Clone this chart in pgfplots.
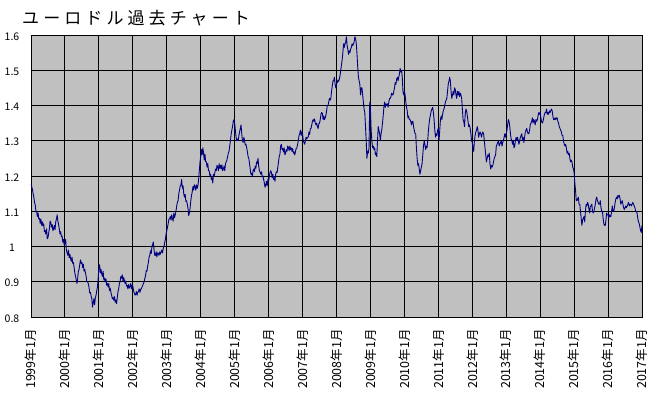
\documentclass[border=0pt]{standalone}
\usepackage{pgfplots}
\pgfplotsset{compat=1.18}
\usepackage{pgfplotstable}
\usepackage{fontspec}
\newfontfamily\cjk{Noto Sans CJK JP}
\definecolor{plotbg}{RGB}{192,192,192}
\definecolor{navyline}{RGB}{0,0,128}
\pgfplotstableread[row sep=\\]{
x y\\
0 1.178\\ 0.25 1.17\\ 0.5 1.162\\ 0.75 1.15\\
1 1.14\\ 1.25 1.125\\ 1.5 1.118\\ 1.75 1.098\\
2 1.10\\ 2.25 1.085\\ 2.5 1.095\\ 2.75 1.078\\
3 1.08\\ 3.25 1.066\\ 3.5 1.078\\ 3.75 1.06\\
4 1.07\\ 4.25 1.058\\ 4.5 1.064\\ 4.75 1.042\\
5 1.045\\ 5.25 1.035\\ 5.5 1.05\\ 5.75 1.022\\
6 1.025\\ 6.25 1.038\\ 6.5 1.05\\ 6.75 1.072\\
7 1.068\\ 7.25 1.055\\ 7.5 1.062\\ 7.75 1.045\\
8 1.05\\ 8.25 1.06\\ 8.5 1.048\\ 8.75 1.07\\
9 1.078\\ 9.25 1.09\\ 9.5 1.072\\ 9.75 1.062\\
10 1.05\\ 10.25 1.035\\ 10.5 1.042\\ 10.75 1.028\\
11 1.03\\ 11.25 1.012\\ 11.5 1.02\\ 11.75 1.004\\
12 1.008\\ 12.25 1.02\\ 12.5 0.99\\ 12.75 0.982\\
13 0.975\\ 13.25 0.99\\ 13.5 0.968\\ 13.75 0.978\\
14 0.965\\ 14.25 0.958\\ 14.5 0.97\\ 14.75 0.952\\
15 0.955\\ 15.25 0.94\\ 15.5 0.925\\ 15.75 0.915\\
16 0.905\\ 16.25 0.895\\ 16.5 0.91\\ 16.75 0.93\\
17 0.935\\ 17.25 0.95\\ 17.5 0.962\\ 17.75 0.952\\
18 0.955\\ 18.25 0.94\\ 18.5 0.95\\ 18.75 0.93\\
19 0.935\\ 19.25 0.925\\ 19.5 0.915\\ 19.75 0.9\\
20 0.9\\ 20.25 0.895\\ 20.5 0.885\\ 20.75 0.868\\
21 0.87\\ 21.25 0.86\\ 21.5 0.852\\ 21.75 0.828\\
22 0.84\\ 22.25 0.852\\ 22.5 0.835\\ 22.75 0.855\\
23 0.862\\ 23.25 0.875\\ 23.5 0.885\\ 23.75 0.91\\
24 0.94\\ 24.25 0.948\\ 24.5 0.925\\ 24.75 0.935\\
25 0.922\\ 25.25 0.915\\ 25.5 0.93\\ 25.75 0.905\\
26 0.91\\ 26.25 0.9\\ 26.5 0.908\\ 26.75 0.89\\
27 0.895\\ 27.25 0.885\\ 27.5 0.895\\ 27.75 0.875\\
28 0.882\\ 28.25 0.87\\ 28.5 0.862\\ 28.75 0.852\\
29 0.855\\ 29.25 0.848\\ 29.5 0.858\\ 29.75 0.842\\
30 0.848\\ 30.25 0.838\\ 30.5 0.855\\ 30.75 0.872\\
31 0.88\\ 31.25 0.895\\ 31.5 0.9\\ 31.75 0.915\\
32 0.91\\ 32.25 0.92\\ 32.5 0.902\\ 32.75 0.912\\
33 0.905\\ 33.25 0.895\\ 33.5 0.902\\ 33.75 0.888\\
34 0.89\\ 34.25 0.88\\ 34.5 0.892\\ 34.75 0.882\\
35 0.886\\ 35.25 0.895\\ 35.5 0.88\\ 35.75 0.89\\
36 0.888\\ 36.25 0.875\\ 36.5 0.868\\ 36.75 0.862\\
37 0.865\\ 37.25 0.872\\ 37.5 0.862\\ 37.75 0.87\\
38 0.872\\ 38.25 0.88\\ 38.5 0.87\\ 38.75 0.878\\
39 0.88\\ 39.25 0.885\\ 39.5 0.89\\ 39.75 0.895\\
40 0.9\\ 40.25 0.91\\ 40.5 0.918\\ 40.75 0.932\\
41 0.93\\ 41.25 0.945\\ 41.5 0.955\\ 41.75 0.97\\
42 0.975\\ 42.25 0.988\\ 42.5 0.98\\ 42.75 1.0\\
43 1.005\\ 43.25 1.013\\ 43.5 0.99\\ 43.75 0.975\\
44 0.975\\ 44.25 0.985\\ 44.5 0.97\\ 44.75 0.982\\
45 0.98\\ 45.25 0.975\\ 45.5 0.985\\ 45.75 0.978\\
46 0.985\\ 46.25 0.99\\ 46.5 0.982\\ 46.75 0.995\\
47 1.0\\ 47.25 1.01\\ 47.5 1.02\\ 47.75 1.035\\
48 1.045\\ 48.25 1.055\\ 48.5 1.065\\ 48.75 1.078\\
49 1.078\\ 49.25 1.085\\ 49.5 1.075\\ 49.75 1.09\\
50 1.08\\ 50.25 1.072\\ 50.5 1.095\\ 50.75 1.082\\
51 1.09\\ 51.25 1.1\\ 51.5 1.115\\ 51.75 1.125\\
52 1.13\\ 52.25 1.15\\ 52.5 1.16\\ 52.75 1.172\\
53 1.175\\ 53.25 1.19\\ 53.5 1.165\\ 53.75 1.172\\
54 1.15\\ 54.25 1.14\\ 54.5 1.148\\ 54.75 1.128\\
55 1.13\\ 55.25 1.12\\ 55.5 1.108\\ 55.75 1.088\\
56 1.095\\ 56.25 1.11\\ 56.5 1.13\\ 56.75 1.145\\
57 1.155\\ 57.25 1.17\\ 57.5 1.16\\ 57.75 1.175\\
58 1.17\\ 58.25 1.16\\ 58.5 1.175\\ 58.75 1.165\\
59 1.172\\ 59.25 1.19\\ 59.5 1.215\\ 59.75 1.24\\
60 1.255\\ 60.25 1.275\\ 60.5 1.26\\ 60.75 1.28\\
61 1.265\\ 61.25 1.245\\ 61.5 1.262\\ 61.75 1.24\\
62 1.24\\ 62.25 1.225\\ 62.5 1.235\\ 62.75 1.215\\
63 1.215\\ 63.25 1.2\\ 63.5 1.205\\ 63.75 1.19\\
64 1.195\\ 64.25 1.18\\ 64.5 1.205\\ 64.75 1.2\\
65 1.21\\ 65.25 1.22\\ 65.5 1.215\\ 65.75 1.23\\
66 1.225\\ 66.25 1.215\\ 66.5 1.235\\ 66.75 1.222\\
67 1.23\\ 67.25 1.22\\ 67.5 1.232\\ 67.75 1.215\\
68 1.22\\ 68.25 1.228\\ 68.5 1.215\\ 68.75 1.235\\
69 1.24\\ 69.25 1.245\\ 69.5 1.255\\ 69.75 1.265\\
70 1.27\\ 70.25 1.285\\ 70.5 1.3\\ 70.75 1.318\\
71 1.33\\ 71.25 1.34\\ 71.5 1.355\\ 71.75 1.36\\
72 1.35\\ 72.25 1.33\\ 72.5 1.31\\ 72.75 1.3\\
73 1.305\\ 73.25 1.3\\ 73.5 1.315\\ 73.75 1.325\\
74 1.335\\ 74.25 1.345\\ 74.5 1.32\\ 74.75 1.3\\
75 1.295\\ 75.25 1.31\\ 75.5 1.3\\ 75.75 1.288\\
76 1.29\\ 76.25 1.28\\ 76.5 1.268\\ 76.75 1.255\\
77 1.25\\ 77.25 1.235\\ 77.5 1.22\\ 77.75 1.205\\
78 1.208\\ 78.25 1.198\\ 78.5 1.215\\ 78.75 1.22\\
79 1.212\\ 79.25 1.228\\ 79.5 1.222\\ 79.75 1.24\\
80 1.235\\ 80.25 1.25\\ 80.5 1.228\\ 80.75 1.215\\
81 1.21\\ 81.25 1.205\\ 81.5 1.212\\ 81.75 1.198\\
82 1.2\\ 82.25 1.19\\ 82.5 1.18\\ 82.75 1.168\\
83 1.175\\ 83.25 1.185\\ 83.5 1.172\\ 83.75 1.19\\
84 1.185\\ 84.25 1.198\\ 84.5 1.21\\ 84.75 1.215\\
85 1.21\\ 85.25 1.195\\ 85.5 1.205\\ 85.75 1.19\\
86 1.195\\ 86.25 1.185\\ 86.5 1.205\\ 86.75 1.212\\
87 1.21\\ 87.25 1.225\\ 87.5 1.24\\ 87.75 1.255\\
88 1.262\\ 88.25 1.285\\ 88.5 1.29\\ 88.75 1.275\\
89 1.278\\ 89.25 1.268\\ 89.5 1.28\\ 89.75 1.26\\
90 1.265\\ 90.25 1.275\\ 90.5 1.27\\ 90.75 1.285\\
91 1.28\\ 91.25 1.272\\ 91.5 1.285\\ 91.75 1.275\\
92 1.28\\ 92.25 1.27\\ 92.5 1.278\\ 92.75 1.265\\
93 1.268\\ 93.25 1.26\\ 93.5 1.27\\ 93.75 1.278\\
94 1.28\\ 94.25 1.29\\ 94.5 1.3\\ 94.75 1.315\\
95 1.32\\ 95.25 1.33\\ 95.5 1.315\\ 95.75 1.325\\
96 1.32\\ 96.25 1.3\\ 96.5 1.295\\ 96.75 1.29\\
97 1.3\\ 97.25 1.31\\ 97.5 1.305\\ 97.75 1.31\\
98 1.31\\ 98.25 1.325\\ 98.5 1.318\\ 98.75 1.335\\
99 1.335\\ 99.25 1.345\\ 99.5 1.355\\ 99.75 1.36\\
100 1.355\\ 100.25 1.362\\ 100.5 1.35\\ 100.75 1.345\\
101 1.35\\ 101.25 1.34\\ 101.5 1.335\\ 101.75 1.348\\
102 1.35\\ 102.25 1.36\\ 102.5 1.375\\ 102.75 1.38\\
103 1.378\\ 103.25 1.36\\ 103.5 1.37\\ 103.75 1.36\\
104 1.365\\ 104.25 1.372\\ 104.5 1.385\\ 104.75 1.4\\
105 1.4\\ 105.25 1.41\\ 105.5 1.42\\ 105.75 1.415\\
106 1.42\\ 106.25 1.44\\ 106.5 1.455\\ 106.75 1.47\\
107 1.47\\ 107.25 1.48\\ 107.5 1.46\\ 107.75 1.45\\
108 1.46\\ 108.25 1.465\\ 108.5 1.472\\ 108.75 1.468\\
109 1.475\\ 109.25 1.485\\ 109.5 1.5\\ 109.75 1.515\\
110 1.53\\ 110.25 1.55\\ 110.5 1.575\\ 110.75 1.565\\
111 1.575\\ 111.25 1.58\\ 111.5 1.595\\ 111.75 1.57\\
112 1.56\\ 112.25 1.545\\ 112.5 1.555\\ 112.75 1.55\\
113 1.56\\ 113.25 1.565\\ 113.5 1.575\\ 113.75 1.57\\
114 1.575\\ 114.25 1.58\\ 114.5 1.595\\ 114.75 1.59\\
115 1.575\\ 115.25 1.545\\ 115.5 1.51\\ 115.75 1.48\\
116 1.47\\ 116.25 1.46\\ 116.5 1.43\\ 116.75 1.45\\
117 1.45\\ 117.25 1.43\\ 117.5 1.41\\ 117.75 1.39\\
118 1.38\\ 118.25 1.34\\ 118.5 1.3\\ 118.75 1.25\\
119 1.27\\ 119.25 1.265\\ 119.5 1.28\\ 119.75 1.41\\
120 1.39\\ 120.25 1.33\\ 120.5 1.3\\ 120.75 1.28\\
121 1.285\\ 121.25 1.275\\ 121.5 1.28\\ 121.75 1.26\\
122 1.265\\ 122.25 1.255\\ 122.5 1.3\\ 122.75 1.34\\
123 1.33\\ 123.25 1.32\\ 123.5 1.3\\ 123.75 1.32\\
124 1.33\\ 124.25 1.35\\ 124.5 1.37\\ 124.75 1.395\\
125 1.41\\ 125.25 1.395\\ 125.5 1.405\\ 125.75 1.4\\
126 1.405\\ 126.25 1.395\\ 126.5 1.41\\ 126.75 1.42\\
127 1.42\\ 127.25 1.425\\ 127.5 1.435\\ 127.75 1.43\\
128 1.43\\ 128.25 1.44\\ 128.5 1.45\\ 128.75 1.465\\
129 1.46\\ 129.25 1.475\\ 129.5 1.48\\ 129.75 1.47\\
130 1.48\\ 130.25 1.49\\ 130.5 1.505\\ 130.75 1.495\\
131 1.5\\ 131.25 1.48\\ 131.5 1.44\\ 131.75 1.43\\
132 1.44\\ 132.25 1.43\\ 132.5 1.41\\ 132.75 1.395\\
133 1.385\\ 133.25 1.365\\ 133.5 1.37\\ 133.75 1.36\\
134 1.36\\ 134.25 1.355\\ 134.5 1.345\\ 134.75 1.355\\
135 1.355\\ 135.25 1.34\\ 135.5 1.33\\ 135.75 1.32\\
136 1.32\\ 136.25 1.28\\ 136.5 1.25\\ 136.75 1.23\\
137 1.235\\ 137.25 1.22\\ 137.5 1.205\\ 137.75 1.215\\
138 1.225\\ 138.25 1.235\\ 138.5 1.26\\ 138.75 1.285\\
139 1.3\\ 139.25 1.29\\ 139.5 1.275\\ 139.75 1.285\\
140 1.28\\ 140.25 1.3\\ 140.5 1.33\\ 140.75 1.35\\
141 1.365\\ 141.25 1.375\\ 141.5 1.385\\ 141.75 1.39\\
142 1.395\\ 142.25 1.38\\ 142.5 1.36\\ 142.75 1.33\\
143 1.31\\ 143.25 1.32\\ 143.5 1.315\\ 143.75 1.33\\
144 1.335\\ 144.25 1.3\\ 144.5 1.33\\ 144.75 1.36\\
145 1.37\\ 145.25 1.36\\ 145.5 1.375\\ 145.75 1.385\\
146 1.39\\ 146.25 1.4\\ 146.5 1.41\\ 146.75 1.415\\
147 1.42\\ 147.25 1.44\\ 147.5 1.46\\ 147.75 1.47\\
148 1.48\\ 148.25 1.47\\ 148.5 1.44\\ 148.75 1.42\\
149 1.43\\ 149.25 1.44\\ 149.5 1.43\\ 149.75 1.45\\
150 1.445\\ 150.25 1.43\\ 150.5 1.42\\ 150.75 1.44\\
151 1.43\\ 151.25 1.44\\ 151.5 1.425\\ 151.75 1.435\\
152 1.43\\ 152.25 1.42\\ 152.5 1.39\\ 152.75 1.36\\
153 1.355\\ 153.25 1.34\\ 153.5 1.375\\ 153.75 1.39\\
154 1.385\\ 154.25 1.37\\ 154.5 1.355\\ 154.75 1.34\\
155 1.345\\ 155.25 1.335\\ 155.5 1.32\\ 155.75 1.3\\
156 1.295\\ 156.25 1.28\\ 156.5 1.27\\ 156.75 1.3\\
157 1.315\\ 157.25 1.325\\ 157.5 1.33\\ 157.75 1.34\\
158 1.33\\ 158.25 1.31\\ 158.5 1.32\\ 158.75 1.325\\
159 1.32\\ 159.25 1.31\\ 159.5 1.32\\ 159.75 1.325\\
160 1.32\\ 160.25 1.3\\ 160.5 1.28\\ 160.75 1.26\\
161 1.24\\ 161.25 1.25\\ 161.5 1.26\\ 161.75 1.255\\
162 1.265\\ 162.25 1.235\\ 162.5 1.22\\ 162.75 1.23\\
163 1.225\\ 163.25 1.23\\ 163.5 1.24\\ 163.75 1.25\\
164 1.255\\ 164.25 1.26\\ 164.5 1.285\\ 164.75 1.29\\
165 1.295\\ 165.25 1.3\\ 165.5 1.285\\ 165.75 1.29\\
166 1.295\\ 166.25 1.3\\ 166.5 1.285\\ 166.75 1.295\\
167 1.3\\ 167.25 1.31\\ 167.5 1.32\\ 167.75 1.31\\
168 1.32\\ 168.25 1.33\\ 168.5 1.345\\ 168.75 1.36\\
169 1.355\\ 169.25 1.34\\ 169.5 1.32\\ 169.75 1.305\\
170 1.3\\ 170.25 1.29\\ 170.5 1.3\\ 170.75 1.28\\
171 1.285\\ 171.25 1.3\\ 171.5 1.31\\ 171.75 1.3\\
172 1.31\\ 172.25 1.3\\ 172.5 1.29\\ 172.75 1.3\\
173 1.31\\ 173.25 1.315\\ 173.5 1.32\\ 173.75 1.3\\
174 1.31\\ 174.25 1.295\\ 174.5 1.31\\ 174.75 1.325\\
175 1.33\\ 175.25 1.335\\ 175.5 1.325\\ 175.75 1.32\\
176 1.32\\ 176.25 1.33\\ 176.5 1.345\\ 176.75 1.35\\
177 1.355\\ 177.25 1.365\\ 177.5 1.35\\ 177.75 1.36\\
178 1.355\\ 178.25 1.345\\ 178.5 1.36\\ 178.75 1.355\\
179 1.36\\ 179.25 1.37\\ 179.5 1.38\\ 179.75 1.375\\
180 1.38\\ 180.25 1.365\\ 180.5 1.355\\ 180.75 1.35\\
181 1.355\\ 181.25 1.365\\ 181.5 1.375\\ 181.75 1.38\\
182 1.38\\ 182.25 1.39\\ 182.5 1.375\\ 182.75 1.38\\
183 1.375\\ 183.25 1.385\\ 183.5 1.38\\ 183.75 1.385\\
184 1.39\\ 184.25 1.385\\ 184.5 1.37\\ 184.75 1.36\\
185 1.36\\ 185.25 1.365\\ 185.5 1.36\\ 185.75 1.365\\
186 1.365\\ 186.25 1.355\\ 186.5 1.35\\ 186.75 1.34\\
187 1.335\\ 187.25 1.33\\ 187.5 1.325\\ 187.75 1.315\\
188 1.315\\ 188.25 1.3\\ 188.5 1.29\\ 188.75 1.285\\
189 1.29\\ 189.25 1.28\\ 189.5 1.265\\ 189.75 1.27\\
190 1.26\\ 190.25 1.265\\ 190.5 1.25\\ 190.75 1.24\\
191 1.245\\ 191.25 1.24\\ 191.5 1.225\\ 191.75 1.22\\
192 1.21\\ 192.25 1.18\\ 192.5 1.16\\ 192.75 1.13\\
193 1.13\\ 193.25 1.135\\ 193.5 1.14\\ 193.75 1.12\\
194 1.12\\ 194.25 1.1\\ 194.5 1.08\\ 194.75 1.06\\
195 1.075\\ 195.25 1.08\\ 195.5 1.085\\ 195.75 1.07\\
196 1.1\\ 196.25 1.12\\ 196.5 1.115\\ 196.75 1.125\\
197 1.12\\ 197.25 1.105\\ 197.5 1.095\\ 197.75 1.115\\
198 1.115\\ 198.25 1.12\\ 198.5 1.1\\ 198.75 1.095\\
199 1.1\\ 199.25 1.11\\ 199.5 1.12\\ 199.75 1.135\\
200 1.14\\ 200.25 1.13\\ 200.5 1.125\\ 200.75 1.12\\
201 1.12\\ 201.25 1.13\\ 201.5 1.11\\ 201.75 1.1\\
202 1.1\\ 202.25 1.08\\ 202.5 1.065\\ 202.75 1.06\\
203 1.06\\ 203.25 1.075\\ 203.5 1.095\\ 203.75 1.09\\
204 1.09\\ 204.25 1.08\\ 204.5 1.09\\ 204.75 1.085\\
205 1.085\\ 205.25 1.1\\ 205.5 1.115\\ 205.75 1.1\\
206 1.1\\ 206.25 1.11\\ 206.5 1.125\\ 206.75 1.135\\
207 1.14\\ 207.25 1.135\\ 207.5 1.145\\ 207.75 1.14\\
208 1.145\\ 208.25 1.135\\ 208.5 1.12\\ 208.75 1.125\\
209 1.13\\ 209.25 1.12\\ 209.5 1.11\\ 209.75 1.105\\
210 1.11\\ 210.25 1.115\\ 210.5 1.11\\ 210.75 1.115\\
211 1.12\\ 211.25 1.125\\ 211.5 1.115\\ 211.75 1.12\\
212 1.12\\ 212.25 1.115\\ 212.5 1.12\\ 212.75 1.125\\
213 1.12\\ 213.25 1.115\\ 213.5 1.11\\ 213.75 1.1\\
214 1.1\\ 214.25 1.095\\ 214.5 1.08\\ 214.75 1.07\\
215 1.065\\ 215.25 1.055\\ 215.5 1.045\\ 215.75 1.04\\
216 1.06\\
}\eurusd
\begin{document}
\begin{tikzpicture}
\path[use as bounding box] (-31pt,-79pt) rectangle (619pt,317pt);
\begin{axis}[
  at={(0pt,0pt)}, anchor=south west,
  scale only axis, width=611pt, height=282pt,
  xmin=0, xmax=216, ymin=0.8, ymax=1.6,
  xtick={0,12,...,216},
  xticklabels={1999年1月,2000年1月,2001年1月,2002年1月,2003年1月,2004年1月,2005年1月,2006年1月,2007年1月,2008年1月,2009年1月,2010年1月,2011年1月,2012年1月,2013年1月,2014年1月,2015年1月,2016年1月,2017年1月},
  ytick={0.8,0.9,1.0,1.1,1.2,1.3,1.4,1.5,1.6},
  yticklabels={0.8,0.9,1,1.1,1.2,1.3,1.4,1.5,1.6},
  major tick length=0pt,
  grid=major,
  major grid style={black, line width=0.9pt},
  axis line style={black, line width=0.8pt},
  axis background/.style={fill=plotbg},
  xticklabel style={font=\cjk\fontsize{12.5}{13}\selectfont, rotate=90, anchor=east, inner sep=0pt, xshift=-12pt},
  yticklabel style={font=\cjk\fontsize{10.5}{12}\selectfont, anchor=center, inner sep=0pt, xshift=-19pt, yshift=-1.5pt},
  clip=true,
]
\addplot[navyline, line width=0.9pt, line join=round] table[x=x, y=y] {\eurusd};
\end{axis}
\node[anchor=west, inner sep=0pt, font=\cjk\addfontfeature{LetterSpace=24}\fontsize{17}{18}\selectfont] at (-9pt,299pt) {ユーロドル過去チャート};
\end{tikzpicture}
\end{document}
